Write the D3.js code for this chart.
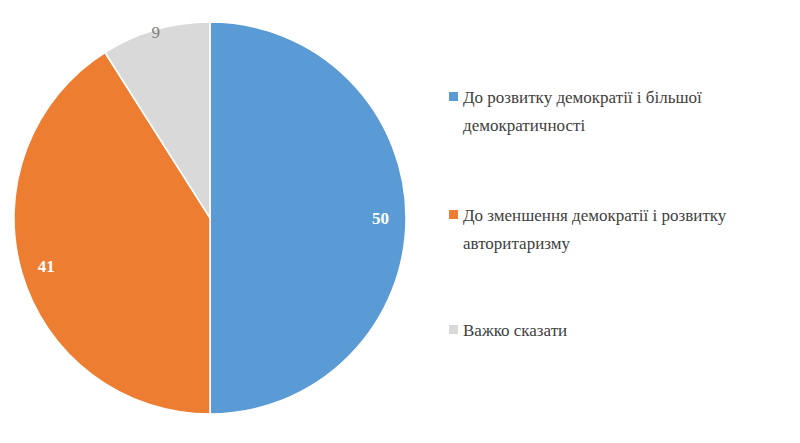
<!DOCTYPE html>
<html><head><meta charset="utf-8">
<script src="https://cdn.jsdelivr.net/npm/d3@7"></script>
<style>body{margin:0;background:#fff}</style>
</head><body>
<svg id="c" width="800" height="443"></svg>
<script>
const categories = ["До розвитку демократії і більшої демократичності","До зменшення демократії і розвитку авторитаризму","Важко сказати"];
const legendLines = [["До розвитку демократії і більшої","демократичності"],["До зменшення демократії і розвитку","авторитаризму"],["Важко сказати"]];
const values = [50,41,9];
const colors = ["#5B9BD5","#ED7D31","#D9D9D9"];
const labelColors = ["#fff","#fff","#7f7f7f"];

const svg = d3.select("#c");
const cx=210, cy=218, r=196;
const pie = d3.pie().sort(null).value(d=>d)(values);
const arc = d3.arc().innerRadius(0).outerRadius(r);
const g = svg.append("g").attr("transform",`translate(${cx},${cy})`);
g.selectAll("path").data(pie).join("path").attr("d",arc)
 .attr("fill",(d,i)=>colors[i]).attr("stroke","#fff").attr("stroke-width",1.5);
const lab = d3.arc().innerRadius(r*0.87).outerRadius(r*0.87);
g.selectAll("text").data(pie).join("text")
 .attr("transform",(d,i)=>{const p = i===2 ? d3.arc().innerRadius(r*0.99).outerRadius(r*0.99).centroid(d) : lab.centroid(d); return `translate(${p})`;})
 .attr("text-anchor","middle").attr("dy","0.35em")
 .attr("font-family","Liberation Serif, Times New Roman, serif").attr("font-size",17)
 .attr("font-weight",(d,i)=>i<2?"bold":"normal")
 .attr("fill",(d,i)=>labelColors[i]).text(d=>d.data);

const legY=[97,215,330];
const lg = svg.append("g");
legendLines.forEach((lines,i)=>{
  lg.append("rect").attr("x",449).attr("y",legY[i]-5).attr("width",9).attr("height",9).attr("fill",colors[i]);
  lines.forEach((t,j)=>{
    lg.append("text").attr("x",463).attr("y",legY[i]+j*28).attr("dy","0.35em")
      .attr("font-family","Liberation Serif, Times New Roman, serif").attr("font-size",17)
      .attr("fill","#404040").text(t);
  });
});
</script>
</body></html>
